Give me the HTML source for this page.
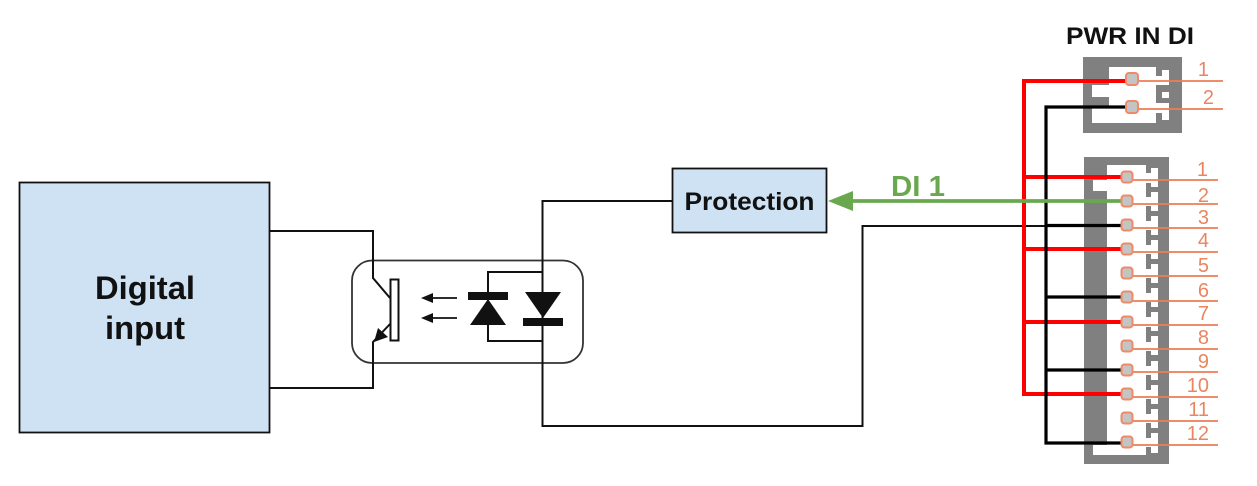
<!DOCTYPE html>
<html><head><meta charset="utf-8"><style>
html,body{margin:0;padding:0;background:#fff;width:1257px;height:486px;overflow:hidden}
svg{display:block}
text{font-family:"Liberation Sans",Arial,sans-serif}
</style></head><body>
<svg width="1257" height="486" viewBox="0 0 1257 486" xmlns="http://www.w3.org/2000/svg">
<rect x="19.5" y="182.5" width="250" height="250" fill="#cfe2f3" stroke="#111" stroke-width="1.8"/>
<text x="145" y="299" font-size="32" font-weight="bold" text-anchor="middle" fill="#111" textLength="100" lengthAdjust="spacingAndGlyphs">Digital</text>
<text x="145" y="339" font-size="32" font-weight="bold" text-anchor="middle" fill="#111" textLength="80" lengthAdjust="spacingAndGlyphs">input</text>
<rect x="672.5" y="168.5" width="154" height="64" fill="#cfe2f3" stroke="#111" stroke-width="1.8"/>
<text x="749.500" y="210" font-size="25" font-weight="bold" text-anchor="middle" fill="#111" textLength="130" lengthAdjust="spacingAndGlyphs">Protection</text>
<rect x="352" y="260.5" width="231" height="102.5" rx="20" fill="none" stroke="#333" stroke-width="1.8"/>
<g fill="none" stroke="#111" stroke-width="2">
<path d="M270 231H373V278L390 298"/>
<path d="M270 388H373V342L390 324"/>
<path d="M672 201H542.5V426H862.5V226H1046"/>
<path d="M488 325V341H542M488 292V272H542"/>
<rect x="390.5" y="279.5" width="8" height="61"/>
<path d="M427 298H457M427 318H457" stroke-width="1.8"/>
</g>
<path d="M374 342L378 328L388 337Z" fill="#111"/>
<path d="M421 298L433 293V303ZM421 318L433 313V323Z" fill="#111"/>
<path d="M468 292H508V300H468ZM488 299L506 325H470ZM525 292H561L543 318ZM523 318H563V326H523Z" fill="#111"/>

<rect x="1083" y="57" width="99" height="76" fill="#808080"/>
<path d="M1109 67H1156V85H1156V123H1092V107H1109V97H1092V85H1109Z" fill="#fff"/>
<path d="M1156 67H1162V70H1169V85H1162V92H1169V98H1162V103H1169V120H1162V123H1156V113H1162V103H1156V85H1156V67Z" fill="#fff" opacity="0"/>
<path d="M1162 70H1169V85H1162ZM1162 92H1169V98H1162ZM1162 103H1169V120H1162ZM1156 76H1162V85H1156ZM1156 103H1162V113H1156Z" fill="#fff"/>

<rect x="1084" y="157" width="85" height="307" fill="#808080"/>
<path d="M1107 165H1146V455H1093V445H1107V191H1093V180H1107Z" fill="#fff"/>
<path d="M1146 173H1151V183H1146ZM1146 197H1151V206H1146ZM1146 221H1151V230H1146ZM1146 245H1151V254H1146ZM1146 269H1151V278H1146ZM1146 293H1151V302H1146ZM1146 317H1151V327H1146ZM1146 342H1151V351H1146ZM1146 366H1151V375H1146ZM1146 390H1151V399H1146ZM1146 414H1151V423H1146ZM1146 438H1151V447H1146Z" fill="#fff"/>
<path d="M1151 168H1158V187H1151ZM1151 192H1158V211H1151ZM1151 216H1158V235H1151ZM1151 240H1158V259H1151ZM1151 264H1158V283H1151ZM1151 288H1158V307H1151ZM1151 312H1158V331H1151ZM1151 336H1158V355H1151ZM1151 361H1158V380H1151ZM1151 385H1158V404H1151ZM1151 409H1158V428H1151ZM1151 433H1158V453H1151Z" fill="#fff"/>

<g stroke="#f00" stroke-width="4" fill="none">
<path d="M1127 81H1024V394H1121M1024 177H1121M1024 249H1121M1024 322H1121"/>
</g>
<g stroke="#000" stroke-width="3.2" fill="none">
<path d="M1127 107H1046V443H1121M1046 225.500H1121M1046 297H1121M1046 370H1121"/>
</g>
<path d="M1121 201H850" stroke="#6aa84f" stroke-width="3.8"/>
<path d="M828 201L853 191V211Z" fill="#6aa84f"/>
<text x="891" y="196" font-size="29" font-weight="bold" fill="#6aa84f" textLength="54" lengthAdjust="spacingAndGlyphs">DI 1</text>

<g stroke="#ed7d55" stroke-width="1.8" fill="none">
<path d="M1138 81H1223M1138 109H1223"/>
<path d="M1132 180H1218M1132 204H1218M1132 228H1218M1132 252H1218M1132 276H1218M1132 301H1218M1132 325H1218M1132 349H1218M1132 372H1218M1132 397H1218M1132 421H1218M1132 445H1218"/>
</g>
<g fill="#c4c4c4" stroke="#ee8a68" stroke-width="2">
<rect x="1126" y="73" width="12" height="12" rx="3"/><rect x="1126" y="101" width="12" height="12" rx="3"/>
<rect x="1121.500" y="171.500" width="11" height="11" rx="3"/><rect x="1121.500" y="195.500" width="11" height="11" rx="3"/><rect x="1121.500" y="219.500" width="11" height="11" rx="3"/><rect x="1121.500" y="243.500" width="11" height="11" rx="3"/><rect x="1121.500" y="267.500" width="11" height="11" rx="3"/><rect x="1121.500" y="291.500" width="11" height="11" rx="3"/><rect x="1121.500" y="316.500" width="11" height="11" rx="3"/><rect x="1121.500" y="340.500" width="11" height="11" rx="3"/><rect x="1121.500" y="364.500" width="11" height="11" rx="3"/><rect x="1121.500" y="388.500" width="11" height="11" rx="3"/><rect x="1121.500" y="412.500" width="11" height="11" rx="3"/><rect x="1121.500" y="436.500" width="11" height="11" rx="3"/>
</g>
<g font-size="20" fill="#ea8560" text-anchor="end">
<text x="1209" y="76">1</text><text x="1214" y="104">2</text>
<text x="1208" y="176">1</text><text x="1209" y="202">2</text><text x="1209" y="224">3</text><text x="1209" y="247">4</text><text x="1209" y="272">5</text><text x="1209" y="297">6</text><text x="1209" y="320">7</text><text x="1209" y="344">8</text><text x="1209" y="368">9</text><text x="1209" y="392">10</text><text x="1209" y="416">11</text><text x="1209" y="440">12</text>
</g>
<text x="1130" y="44" font-size="24" font-weight="bold" text-anchor="middle" fill="#111" textLength="128" lengthAdjust="spacingAndGlyphs">PWR IN DI</text>
</svg>
</body></html>
